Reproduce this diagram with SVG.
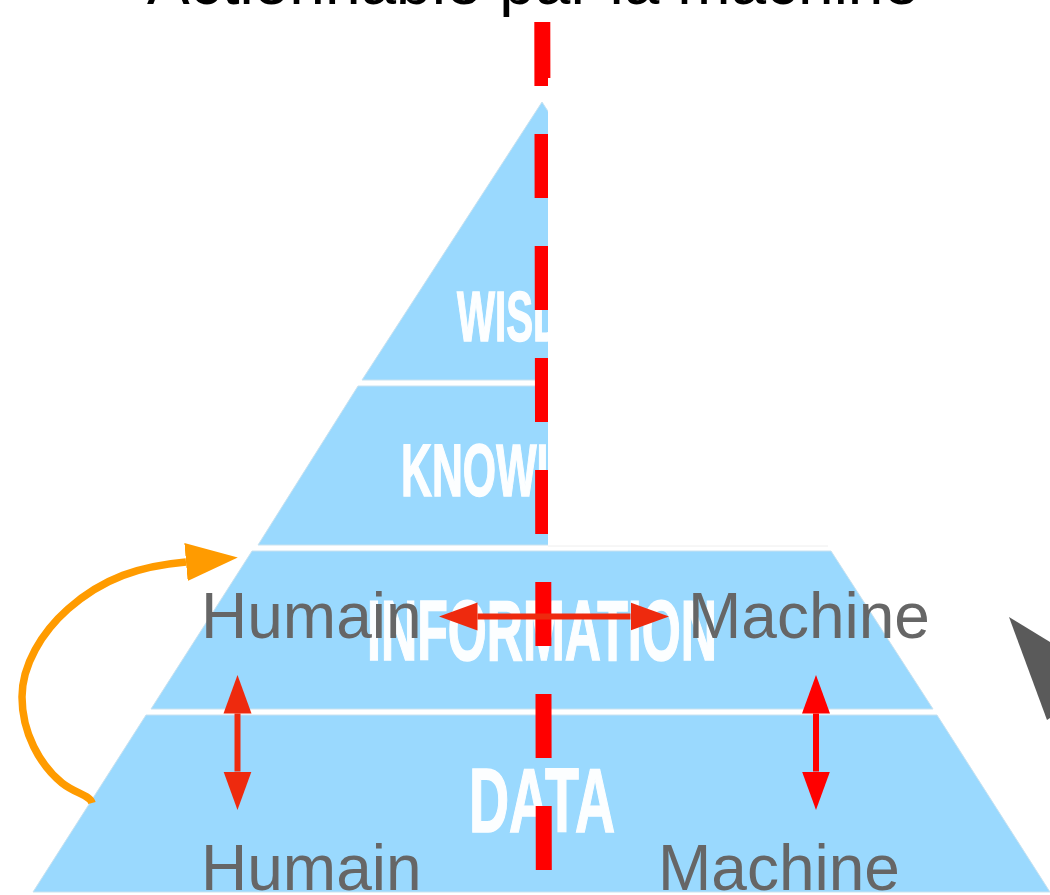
<svg xmlns="http://www.w3.org/2000/svg" width="1050" height="895" viewBox="0 0 1050 895">
<style>
.level{fill:#9ad9fe;stroke:#c9e2f0;stroke-width:1}
.tier{font-family:"Liberation Sans Narrow","Liberation Sans",sans-serif;font-weight:700;fill:#fcfeff;stroke:#fcfeff;stroke-width:1.5}
.lab{font-family:"Liberation Sans",Arial,sans-serif;font-size:64px;fill:#666}
.dash{fill:none;stroke:#f00;stroke-width:16;stroke-dasharray:64 48}
.red1{fill:none;stroke:#ee2a0e;stroke-width:6}
.red2{fill:none;stroke:#f00;stroke-width:6}
</style>
<defs>
<marker id="headA" markerUnits="userSpaceOnUse" markerWidth="40" markerHeight="30" viewBox="0 -15 40 30" refX="0" refY="0" orient="auto-start-reverse"><path d="M0,-14L38.5,0L0,14Z" fill="#ee2a0e"/></marker>
<marker id="headB" markerUnits="userSpaceOnUse" markerWidth="40" markerHeight="30" viewBox="0 -15 40 30" refX="0" refY="0" orient="auto-start-reverse"><path d="M0,-14L38.5,0L0,14Z" fill="#f00"/></marker>
<marker id="headC" markerUnits="userSpaceOnUse" markerWidth="54" markerHeight="40" viewBox="0 -20 54 40" refX="0" refY="0" orient="auto"><path d="M0,-19L52,0L0,19Z" fill="#ff9b00"/></marker>
</defs>
<rect width="1050" height="895" fill="#fff"/>
<g id="title"><text x="147" y="4" font-family="Liberation Sans,Arial,sans-serif" font-size="64" fill="#000">Actionnable par la machine</text></g>
<g id="wisdom"><polygon class="level" points="542,102 722,380 362,380"/><text class="tier" x="457" y="341" font-size="70" textLength="170" lengthAdjust="spacingAndGlyphs">WISDOM</text></g>
<g id="knowledge"><polygon class="level" points="358,386 726,386 829,545 258,545"/><text class="tier" x="401" y="496" font-size="74" textLength="283" lengthAdjust="spacingAndGlyphs">KNOWLEDGE</text></g>
<g id="information"><polygon class="level" points="252,551 831,551 933,709 151,709"/><text class="tier" x="367" y="660" font-size="85" textLength="350" lengthAdjust="spacingAndGlyphs">INFORMATION</text></g>
<g id="data"><polygon class="level" points="146,715 937,715 1050,892 33,892"/><text class="tier" x="469" y="832" font-size="90" textLength="146" lengthAdjust="spacingAndGlyphs">DATA</text></g>
<g id="divider"><line class="dash" x1="542.3" y1="22" x2="543.8" y2="870"/></g>
<g id="mask"><rect x="548" y="78" width="502" height="468" fill="#fff"/><line x1="548" y1="546" x2="828" y2="546" stroke="#eee" stroke-width="1"/></g>
<g id="humain-top"><text class="lab" x="201" y="638">Humain</text></g>
<g id="machine-top"><text class="lab" x="688" y="638">Machine</text></g>
<g id="humain-bottom"><text class="lab" x="201" y="890">Humain</text></g>
<g id="machine-bottom"><text class="lab" x="658" y="890">Machine</text></g>
<g id="side-shape"><polygon points="1009,617 1050,642 1050,718 1047,720" fill="#5a5a5a"/></g>
<g id="connectors">
<line class="red1" x1="477.5" y1="616.5" x2="630.5" y2="616.5" marker-start="url(#headA)" marker-end="url(#headA)"/>
<line class="red1" x1="237.5" y1="713.5" x2="237.5" y2="771.5" marker-start="url(#headA)" marker-end="url(#headA)"/>
<line class="red2" x1="816" y1="713.5" x2="816" y2="771.5" marker-start="url(#headB)" marker-end="url(#headB)"/>
<path d="M92,803C90,795 76,794 62,783C40,765 22,733 22,697C22,665 42,632 68,609C103,578 140,566 186,562" fill="none" stroke="#ff9b00" stroke-width="7.5" marker-end="url(#headC)"/>
</g>
</svg>
